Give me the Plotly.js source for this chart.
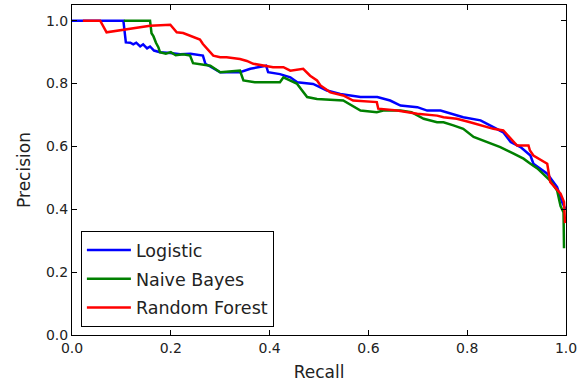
<!DOCTYPE html>
<html>
<head>
<meta charset="utf-8">
<script src="https://cdn.plot.ly/plotly-3.0.1.min.js"></script>
<style>html,body{margin:0;padding:0;background:#fff;}#chart{width:582px;height:385px;}</style>
</head>
<body>
<div id="chart"></div>
<script>
const seriesNames = ["Logistic", "Naive Bayes", "Random Forest"];
const seriesColors = ["#0000ff", "#008000", "#ff0000"];

const logisticRecall = [0.0, 0.104, 0.109, 0.118, 0.124, 0.130, 0.138, 0.144, 0.152, 0.158, 0.166, 0.178, 0.199, 0.219, 0.240, 0.259, 0.265, 0.270, 0.284, 0.300, 0.340, 0.361, 0.393, 0.397, 0.421, 0.442, 0.456, 0.488, 0.516, 0.543, 0.584, 0.618, 0.644, 0.665, 0.699, 0.719, 0.746, 0.766, 0.792, 0.827, 0.853, 0.873, 0.888, 0.908, 0.928, 0.934, 0.962, 0.982, 0.992, 0.999];
const logisticPrecision = [1.0, 1.0, 0.931, 0.930, 0.925, 0.930, 0.918, 0.925, 0.912, 0.918, 0.905, 0.900, 0.897, 0.893, 0.895, 0.889, 0.889, 0.863, 0.850, 0.836, 0.836, 0.847, 0.857, 0.836, 0.830, 0.820, 0.804, 0.799, 0.778, 0.767, 0.757, 0.757, 0.746, 0.730, 0.725, 0.714, 0.714, 0.704, 0.693, 0.683, 0.661, 0.645, 0.614, 0.598, 0.571, 0.545, 0.513, 0.471, 0.423, 0.400];

const bayesRecall = [0.105, 0.158, 0.161, 0.165, 0.170, 0.175, 0.178, 0.190, 0.200, 0.210, 0.225, 0.239, 0.245, 0.280, 0.300, 0.340, 0.347, 0.370, 0.421, 0.428, 0.455, 0.476, 0.496, 0.536, 0.549, 0.584, 0.617, 0.630, 0.665, 0.687, 0.712, 0.739, 0.752, 0.772, 0.792, 0.813, 0.840, 0.867, 0.894, 0.914, 0.928, 0.942, 0.969, 0.982, 0.989, 0.995, 0.996];
const bayesPrecision = [1.0, 1.0, 0.960, 0.950, 0.930, 0.915, 0.900, 0.895, 0.900, 0.890, 0.893, 0.889, 0.865, 0.857, 0.836, 0.841, 0.810, 0.804, 0.804, 0.820, 0.800, 0.757, 0.751, 0.746, 0.746, 0.714, 0.709, 0.714, 0.714, 0.709, 0.688, 0.677, 0.677, 0.667, 0.656, 0.630, 0.614, 0.598, 0.577, 0.561, 0.545, 0.530, 0.490, 0.460, 0.410, 0.390, 0.276];

const forestRecall = [0.022, 0.057, 0.070, 0.100, 0.158, 0.199, 0.212, 0.225, 0.259, 0.265, 0.280, 0.286, 0.300, 0.313, 0.340, 0.354, 0.367, 0.387, 0.407, 0.428, 0.442, 0.468, 0.482, 0.496, 0.503, 0.523, 0.549, 0.569, 0.617, 0.620, 0.658, 0.699, 0.739, 0.752, 0.779, 0.806, 0.827, 0.853, 0.873, 0.888, 0.901, 0.924, 0.927, 0.934, 0.962, 0.968, 0.989, 0.996, 0.998];
const forestPrecision = [1.0, 1.0, 0.963, 0.970, 0.984, 0.987, 0.963, 0.961, 0.940, 0.926, 0.900, 0.889, 0.884, 0.884, 0.878, 0.872, 0.863, 0.857, 0.852, 0.852, 0.841, 0.847, 0.825, 0.810, 0.794, 0.772, 0.762, 0.746, 0.741, 0.720, 0.714, 0.704, 0.698, 0.693, 0.688, 0.677, 0.667, 0.656, 0.651, 0.624, 0.603, 0.603, 0.587, 0.571, 0.545, 0.487, 0.450, 0.423, 0.356];

const tickVals = [0.0, 0.2, 0.4, 0.6, 0.8, 1.0];
const tickText = ["0.0", "0.2", "0.4", "0.6", "0.8", "1.0"];

const xs = [logisticRecall, bayesRecall, forestRecall];
const ys = [logisticPrecision, bayesPrecision, forestPrecision];

const traces = seriesNames.map((n, i) => ({
  x: xs[i], y: ys[i], name: n, type: "scatter", mode: "lines",
  legendgroup: "g" + i,
  line: {color: seriesColors[i], width: 2.5}
}));

const font = {family: "DejaVu Sans, sans-serif", color: "#222"};
const axisBase = {
  showline: true, linecolor: "#000", linewidth: 1, mirror: "allticks",
  ticks: "inside", ticklen: 5, tickcolor: "#000", tickwidth: 1,
  showgrid: false, zeroline: false,
  tickvals: tickVals, ticktext: tickText,
  tickfont: {family: font.family, size: 14, color: "#222"}
};

const layout = {
  width: 582, height: 385,
  margin: {l: 72, r: 16, t: 5, b: 50},
  paper_bgcolor: "#fff", plot_bgcolor: "#fff",
  font: font,
  showlegend: true,
  xaxis: Object.assign({}, axisBase, {range: [0, 1], title: {text: "Recall", font: {size: 17, family: font.family, color: "#222"}, standoff: 11}}),
  yaxis: Object.assign({}, axisBase, {range: [0, 1.05], title: {text: "Precision", font: {size: 17, family: font.family, color: "#222"}, standoff: 10}}),
  legend: {
    x: 0.018, y: 0.024, xanchor: "left", yanchor: "bottom",
    bordercolor: "#000", borderwidth: 1, bgcolor: "#fff",
    font: {size: 17.5, family: font.family, color: "#222"},
    itemwidth: 44,
    traceorder: "grouped", tracegroupgap: 3
  }
};

Plotly.newPlot("chart", traces, layout, {staticPlot: true, displayModeBar: false});
</script>
</body>
</html>
